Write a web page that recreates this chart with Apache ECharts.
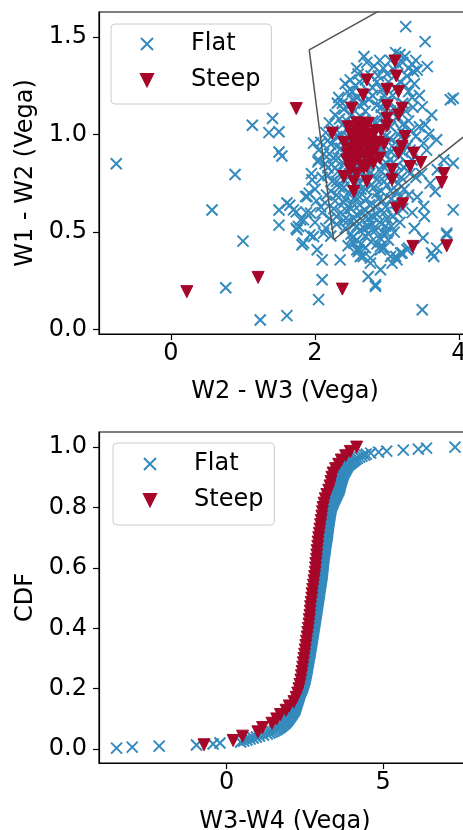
<!DOCTYPE html>
<html>
<head>
<meta charset="utf-8">
<script src="https://cdn.jsdelivr.net/npm/echarts@6/dist/echarts.min.js"></script>
<style>
  html, body { margin: 0; padding: 0; background: #fff; }
  #chart { width: 463px; height: 830px; }
</style>
</head>
<body>
<div id="chart"></div>
<script>
// ---- data ----
const seriesNames = ['Flat', 'Steep'];

// top panel: [W2 - W3, W1 - W2]
const topFlat = [
  [-0.76,0.85],[0.89,0.795],[0.57,0.613],[1.00,0.454],[0.76,0.215],[1.24,0.05],[1.61,0.072],
  [1.13,1.048],[1.41,1.082],[1.36,1.01],[1.50,1.014],[1.50,0.911],[1.54,0.89],
  [1.50,0.613],[1.65,0.638],[1.74,0.604],[1.50,0.536],[1.74,0.519],
  [3.26,1.553],[3.53,1.476],[3.88,1.178],[3.92,1.186],[3.92,0.614],[3.49,0.102],[3.83,0.495],
  [3.62,0.393],[3.69,0.418],[3.51,0.631],[3.67,0.708],[3.79,0.87],[3.92,0.853],[3.69,0.973],
  [3.53,1.05],[3.51,0.956],[3.49,1.143],[3.56,1.348],[3.37,1.323],
  [2.35,0.358],[2.10,0.256],[2.05,0.154],[2.10,0.358],[2.03,0.41],[1.82,0.435],[1.93,0.486],
  [1.77,0.529],[1.84,0.563],[1.70,0.614],[1.61,0.649],[1.89,0.683],[1.96,0.768],[1.98,0.956],[2.05,0.87],
  [2.74,0.273],[2.84,0.23],[2.91,0.307],[3.07,0.341],[3.14,0.358],[2.77,0.341],
  [3.30,0.418],[3.21,0.393],[3.12,0.375],[2.61,0.41],[2.54,0.444],[2.67,0.375],[2.91,0.427],[3.00,0.495],
  [2.77,0.367],[2.91,0.41],[3.05,0.375],[3.19,0.393],[3.28,0.41],[2.84,0.222],[2.58,0.41],[2.63,0.375],
  [3.65,0.375],[3.83,0.486],[1.80,0.563],[1.94,0.597],[1.87,0.683],[1.98,0.478],[1.84,0.444],
  [2.12,0.495],[1.75,0.512],
  [3.12,1.42],[3.18,1.41],[3.25,1.40],[3.05,1.38],[3.22,1.37],[2.72,1.37],[2.82,1.35],[3.35,1.36],
  [2.95,1.34],[3.10,1.33],[3.42,1.33],[2.60,1.31],[2.88,1.30],[3.28,1.30],[2.49,1.28],[2.70,1.28],
  [3.02,1.27],[3.18,1.27],[3.38,1.26],[2.56,1.25],[2.80,1.24],[2.93,1.23],[3.30,1.22],[2.45,1.22],
  [2.65,1.21],[3.08,1.20],[3.45,1.20],[2.33,1.19],[2.52,1.18],[2.75,1.18],[2.98,1.17],[2.31,1.16],
  [3.22,1.16],[2.62,1.15],[2.86,1.15],[3.36,1.14],[2.40,1.13],[3.05,1.12],[2.70,1.12],
  [2.28,1.10],[2.50,1.10],[2.92,1.10],[3.15,1.09],[2.58,1.08],[2.80,1.07],[3.30,1.07],[2.20,1.06],
  [2.38,1.05],[2.66,1.05],[3.05,1.04],[2.46,1.03],[2.88,1.03],[3.20,1.02],[2.15,1.01],[2.56,1.01],
  [2.74,1.00],[2.30,0.99],[2.98,0.99],[3.40,0.99],[2.42,0.98],[2.62,0.97],[2.84,0.97],[3.12,0.96],
  [2.08,0.96],[2.22,0.95],[2.52,0.95],[2.70,0.94],[3.28,0.94],
  [2.36,0.93],[2.94,0.93],[2.60,0.92],[2.78,0.91],[3.06,0.91],[2.12,0.90],[2.46,0.90],[3.18,0.89],
  [2.26,0.88],[2.66,0.88],[2.88,0.87],[3.35,0.87],[2.04,0.86],[2.54,0.86],[2.40,0.85],[3.00,0.85],
  [2.74,0.84],[2.18,0.83],[3.24,0.83],[2.60,0.82],[2.92,0.81],[2.32,0.81],[2.48,0.80],[3.10,0.80],
  [2.82,0.79],[2.10,0.78],[2.68,0.78],[3.40,0.78],[2.40,0.77],[2.96,0.76],[2.24,0.76],[2.56,0.75],
  [3.16,0.75],
  [2.78,0.74],[2.34,0.73],[2.00,0.72],[2.64,0.72],[3.05,0.71],[2.46,0.70],[2.86,0.70],[2.16,0.69],
  [3.30,0.69],[2.56,0.68],[2.72,0.67],[2.94,0.66],[2.28,0.66],[2.40,0.65],[3.12,0.65],[2.62,0.64],
  [2.84,0.63],[2.08,0.63],[2.50,0.62],[3.22,0.62],[2.70,0.61],[2.96,0.60],[2.36,0.60],[2.58,0.59],
  [2.80,0.58],[3.08,0.58],[2.20,0.57],[2.46,0.56],[2.66,0.56],[2.90,0.55],[3.18,0.55],
  [2.54,0.54],[2.74,0.53],[2.98,0.53],[2.42,0.52],[2.62,0.51],[2.84,0.51],[3.10,0.50],[2.50,0.49],
  [2.70,0.48],[2.90,0.47],[2.58,0.46],[2.78,0.45],[3.02,0.46],[2.64,0.44],[2.46,0.43],
  [1.92,0.70],[2.02,0.66],[1.88,0.60],[2.10,0.60],[2.00,0.55],[1.95,0.80],[2.05,0.92],[2.15,0.52],
  [2.22,0.48],[2.30,0.54],
  [3.45,1.04],[3.55,0.92],[3.48,0.80],[3.60,0.75],[3.42,0.68],[3.52,0.58],[3.35,0.60],[3.62,1.10],
  [3.58,1.00],[3.70,0.82],[3.38,0.52],[3.50,0.47],
  [2.42,1.26],[2.58,1.34],[2.68,1.40],[2.78,1.30],[2.90,1.38],[3.00,1.31],[3.15,1.36],[3.30,1.34],
  [3.40,1.38],[2.52,1.22],[2.62,1.27],[2.74,1.22],[2.86,1.27],[2.96,1.20],[3.12,1.24],[3.25,1.25],
  [3.35,1.19],[2.38,1.16],[2.47,1.15],[2.58,1.19],[2.68,1.16],[2.80,1.20],[2.92,1.14],[3.02,1.16],
  [3.14,1.13],[3.26,1.12],[2.34,1.08],[2.44,1.07],[2.54,1.05],[2.64,1.09],[2.72,1.04],[2.86,1.06],
  [2.96,1.05],[3.08,1.07],[3.22,1.05],[3.34,1.02],[2.25,1.02],[2.36,1.00],[2.48,0.98],[2.60,1.00],
  [2.68,0.96],[2.80,1.01],[2.92,0.97],[3.04,0.98],[3.16,1.00],[3.25,0.97],[2.18,0.97],[2.30,0.94],
  [2.44,0.94],[2.56,0.91],[2.66,0.93],[2.76,0.95],[2.86,0.91],[2.98,0.90],[3.10,0.93],[3.22,0.91],
  [3.32,0.92],[2.20,0.90],[2.32,0.88],[2.42,0.87],[2.52,0.84],[2.62,0.86],[2.72,0.87],[2.82,0.85],
  [2.94,0.84],[3.04,0.87],[3.14,0.84],[3.28,0.85],[2.14,0.85],[2.28,0.83],[2.36,0.80],[2.46,0.78],
  [2.56,0.79],[2.66,0.81],[2.76,0.80],[2.86,0.77],[2.98,0.79],[3.08,0.77],[3.20,0.78],[3.32,0.80],
  [2.18,0.79],[2.30,0.76],[2.40,0.73],[2.50,0.72],[2.60,0.74],[2.70,0.72],[2.82,0.73],[2.92,0.71],
  [3.00,0.74],[3.14,0.71],[3.24,0.72],[2.22,0.71],[2.30,0.69],[2.42,0.67],[2.52,0.65],[2.62,0.68],
  [2.76,0.64],[2.88,0.67],[2.98,0.63],[3.06,0.67],[3.18,0.68],[2.14,0.65],[2.26,0.62],[2.44,0.61],
  [2.54,0.57],[2.64,0.60],[2.74,0.57],[2.86,0.59],[3.00,0.57],[3.14,0.60],[2.30,0.58],[2.40,0.56],
  [2.58,0.53],[2.68,0.52],[2.80,0.54],[2.94,0.50],[3.06,0.53],[2.52,0.47],[2.74,0.49],[2.86,0.44],
  [2.96,0.42],[2.70,0.42],[2.60,0.40]
];

const topSteep = [
  [0.22,0.195],[1.21,0.268],[1.74,1.133],[2.38,0.208],[3.36,0.427],[3.83,0.43],
  [3.13,0.623],[3.22,0.645],[3.79,0.80],[3.76,0.754],[3.37,0.905],[3.47,0.857],
  [3.11,1.377],[3.13,1.30],[2.72,1.28],[3.00,1.232],[3.16,1.22],[2.67,1.203],
  [2.51,1.135],[3.00,1.147],[3.21,1.135],[3.16,1.10],[2.63,1.058],[2.74,1.058],
  [3.00,1.084],[3.00,1.045],[2.24,1.007],[2.44,0.87],[2.49,0.82],[2.54,0.76],
  [2.72,0.76],[2.54,0.708],[3.07,0.768],[3.07,0.82],[3.25,0.99],[3.21,0.94],
  [3.16,0.905],[2.86,0.94],[2.81,0.853],[2.72,0.836],[3.32,0.836],[2.40,0.785],
  [2.50,1.00],[2.58,1.02],[2.66,1.01],[2.55,0.95],[2.63,0.94],[2.70,0.97],[2.76,0.92],
  [2.48,0.93],[2.60,0.88],[2.68,0.90],[2.78,0.98],[2.52,0.89],[2.65,0.84],[2.58,0.80],
  [2.90,0.88],[2.84,1.02],[2.96,0.95],[2.40,0.96],
  [2.46,1.04],[2.54,0.98],[2.62,0.99],[2.70,1.03],[2.75,0.95],[2.57,0.92],[2.66,0.96],
  [2.72,0.88],[2.80,0.90],[2.53,0.85],[2.62,0.90],[2.88,0.96],[2.45,0.90],[2.68,0.83],
  [2.76,1.00],[2.92,1.02],[2.58,1.06]
];

// grey selection outline on the top panel, in data units
const cutLine = [[4.6,1.145],[2.26,0.461],[1.92,1.434],[3.6,1.78]];

// bottom panel: W3-W4 values, drawn as an empirical CDF
const cdfFlatValues = [
  -3.51,-3.01,-2.15,-0.96,-0.43,-0.21,
  0.45,0.55,0.65,0.75,
  0.85,0.95,1.05,1.18,1.30,
  1.38,1.45,1.52,1.58,1.63,
  1.68,1.72,1.76,1.80,1.84,1.87,1.90,1.93,1.96,1.98,
  2.00,2.03,2.05,2.07,2.09,2.11,2.13,2.15,2.17,2.18,
  2.19,2.20,2.21,2.22,2.23,2.24,2.25,2.26,2.27,2.28,
  2.29,2.30,2.31,2.32,2.33,2.34,2.35,2.37,2.38,2.40,
  2.41,2.42,2.43,2.44,2.45,2.46,2.47,2.48,2.49,2.50,2.50,2.51,2.52,2.52,2.53,
  2.54,2.54,2.55,2.56,2.56,2.57,2.57,2.58,2.58,2.59,2.60,2.60,2.61,2.61,2.62,
  2.62,2.63,2.63,2.64,2.65,2.65,2.66,2.66,2.67,2.67,2.68,2.68,2.69,2.70,2.70,2.71,2.71,2.72,
  2.72,2.73,2.73,2.74,2.74,2.75,2.75,2.76,2.76,2.77,2.77,2.78,2.78,2.79,2.79,2.80,2.80,2.81,
  2.81,2.82,2.82,2.83,2.83,2.84,2.84,2.85,2.85,2.86,2.86,2.87,2.87,2.88,2.88,
  2.89,2.89,2.90,2.90,2.91,2.91,2.92,2.92,2.93,2.93,2.94,2.94,2.95,2.95,2.96,2.96,2.96,2.97,
  2.97,2.98,2.98,2.99,2.99,3.00,3.00,3.01,3.01,3.02,3.02,3.03,3.03,3.04,3.04,
  3.04,3.05,3.05,3.06,3.06,3.06,3.07,3.07,3.07,3.08,3.08,3.08,3.09,3.09,3.09,3.10,3.10,3.10,
  3.11,3.11,3.12,3.12,3.13,3.13,3.14,3.14,3.14,3.15,3.15,3.16,3.16,3.17,3.17,
  3.18,3.18,3.19,3.19,3.20,3.20,3.21,3.21,3.22,3.22,3.22,3.23,3.23,3.24,3.24,3.24,3.25,3.25,
  3.26,3.26,3.27,3.27,3.28,3.28,3.29,3.29,3.30,3.30,3.31,3.31,3.32,3.32,3.33,
  3.34,3.35,3.36,3.38,3.39,3.40,3.42,3.43,3.45,
  3.46,3.48,3.49,3.51,3.52,3.54,3.55,3.57,3.58,
  3.59,3.60,3.61,3.62,3.62,3.63,
  3.64,3.65,3.66,3.67,3.68,3.69,3.70,3.71,3.72,
  3.73,3.75,3.77,3.79,3.80,3.82,3.84,3.85,
  3.88,3.92,3.96,4.00,4.04,4.08,4.12,
  4.18,4.25,4.32,4.40,4.46,
  4.60,4.85,
  5.11,5.64,6.12,6.38,7.29
];

const cdfSteepValues = [
  -0.72,0.21,0.51,1.00,1.15,1.45,1.60,1.72,1.90,2.00,
  2.15,2.22,2.27,2.31,2.34,2.37,2.39,2.41,2.43,2.45,
  2.47,2.49,2.51,2.53,2.55,2.57,2.59,2.61,2.63,2.64,
  2.66,2.67,2.68,2.70,2.72,2.73,2.75,2.77,2.79,2.81,
  2.83,2.84,2.85,2.87,2.88,2.89,2.91,2.92,2.94,2.96,
  2.98,3.00,3.02,3.04,3.06,3.08,3.11,3.15,3.20,3.26,
  3.30,3.33,3.36,3.40,3.48,3.58,3.66,3.80,3.95,4.15
];

// tick labels
const topXTicks = [0, 2, 4];
const topYTicks = [0, 0.5, 1.0, 1.5];
const cdfXTicks = [0, 5];
const cdfYTicks = [0, 0.2, 0.4, 0.6, 0.8, 1.0];

// ---- chart ----
const FLAT = '#348ABD';
const STEEP = '#A60628';
const FONT = 'DejaVu Sans';
const crossSymbol = 'path://M0,0L10,10M10,0L0,10';
const triSymbol = 'path://M0,0L10,0L5,10Z';

function toCdf(values) {
  const sorted = values.slice().sort((a, b) => a - b);
  return sorted.map((v, i) => [v, (i + 1) / sorted.length]);
}

function axis(gridIndex, min, max, ticks, fmt, name, nameGap, labelMargin) {
  return {
    type: 'value',
    gridIndex: gridIndex,
    min: min,
    max: max,
    name: name,
    nameLocation: 'middle',
    nameGap: nameGap,
    nameTextStyle: { fontSize: 24, color: '#000', fontFamily: FONT },
    axisLine: { show: true, onZero: false, lineStyle: { color: '#000', width: 1.2 } },
    axisTick: { show: true, customValues: ticks, length: 6, lineStyle: { color: '#000', width: 1.2 } },
    axisLabel: { customValues: ticks, formatter: fmt, fontSize: 24, color: '#000', fontFamily: FONT, margin: labelMargin },
    splitLine: { show: false }
  };
}

function legend(left, top, padding) {
  return {
    data: seriesNames,
    orient: 'vertical',
    left: left,
    top: top,
    padding: padding,
    itemWidth: 12,
    itemHeight: 12,
    itemGap: 12,
    backgroundColor: 'rgba(255,255,255,0.8)',
    borderColor: '#cccccc',
    borderWidth: 1,
    borderRadius: 4,
    itemStyle: { borderWidth: 2, opacity: 1 },
    textStyle: { fontSize: 24, color: '#000', fontFamily: FONT, lineHeight: 24, padding: [0, 0, 0, 33] }
  };
}

const flatStyle = { color: FLAT, borderColor: FLAT, borderWidth: 2, opacity: 1 };
const steepStyle = { color: STEEP, borderColor: STEEP, borderWidth: 1, opacity: 1 };

const chart = echarts.init(document.getElementById('chart'), null, { renderer: 'canvas' });
chart.setOption({
  animation: false,
  grid: [
    { left: 99, top: 12, width: 372, height: 322, outerBoundsMode: 'none', containLabel: false,
      show: true, borderColor: '#000', borderWidth: 1.2, backgroundColor: 'transparent' },
    { left: 99, top: 432, width: 372, height: 331, outerBoundsMode: 'none', containLabel: false,
      show: true, borderColor: '#000', borderWidth: 1.2, backgroundColor: 'transparent' }
  ],
  legend: [
    legend(111, 24, [8, 11, 12, 29]),
    legend(113, 443, [9, 11, 13, 30])
  ],
  xAxis: [
    axis(0, -1.0, 4.167, topXTicks, v => String(v), 'W2 - W3 (Vega)', 46, 8),
    axis(1, -4.07, 7.8, cdfXTicks, v => String(v), 'W3-W4 (Vega)', 47, 8)
  ],
  yAxis: [
    axis(0, -0.022, 1.628, topYTicks, v => v.toFixed(1), 'W1 - W2 (Vega)', 61, 12),
    axis(1, -0.046, 1.05, cdfYTicks, v => v.toFixed(1), 'CDF', 60, 12)
  ],
  series: [
    { name: 'Flat', type: 'scatter', xAxisIndex: 0, yAxisIndex: 0, data: topFlat,
      symbol: crossSymbol, symbolSize: 11, itemStyle: flatStyle, emphasis: { disabled: true } },
    { name: 'Steep', type: 'scatter', xAxisIndex: 0, yAxisIndex: 0, data: topSteep,
      symbol: triSymbol, symbolSize: 12, itemStyle: steepStyle, emphasis: { disabled: true } },
    { name: 'cut', type: 'line', xAxisIndex: 0, yAxisIndex: 0, data: cutLine, clip: true,
      symbol: 'none', lineStyle: { color: '#555555', width: 1.5 }, z: 5, silent: true },
    { name: 'Flat', type: 'scatter', xAxisIndex: 1, yAxisIndex: 1, data: toCdf(cdfFlatValues),
      symbol: crossSymbol, symbolSize: 11, itemStyle: flatStyle, emphasis: { disabled: true } },
    { name: 'Steep', type: 'scatter', xAxisIndex: 1, yAxisIndex: 1, data: toCdf(cdfSteepValues),
      symbol: triSymbol, symbolSize: 12, itemStyle: steepStyle, emphasis: { disabled: true } }
  ]
});
</script>
</body>
</html>
